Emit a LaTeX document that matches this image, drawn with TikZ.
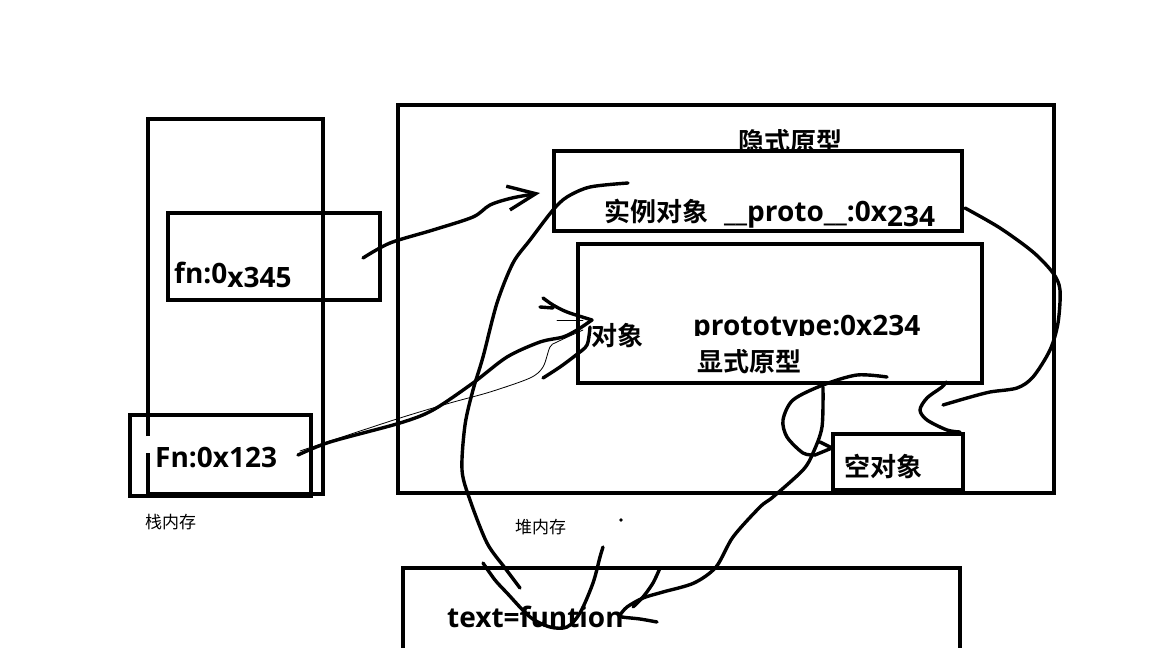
\documentclass[tikz,border=0pt]{standalone}
\usepackage{fontspec}
\setmainfont{Open Sans}
\newfontfamily\cjk{Noto Sans CJK SC}[BoldFont={Noto Sans CJK SC Bold}]
\usetikzlibrary{arrows.meta}

\tikzset{
  box/.style={draw,line width=4.5pt,inner sep=0pt},
  hand/.style={line width=3.4pt,line cap=round,line join=round},
  thinhand/.style={line width=0.8pt,line cap=round},
  lbl/.style={inner sep=0pt,anchor=base west,font=\fontsize{28}{30}\selectfont\bfseries},
  cjklbl/.style={inner sep=0pt,anchor=base west,font=\fontsize{26}{28}\selectfont\cjk\bfseries},
  memlbl/.style={inner sep=0pt,anchor=base west,font=\fontsize{17}{19}\selectfont\cjk},
}

\begin{document}
\begin{tikzpicture}[x=1pt,y=-1pt]
\useasboundingbox (0,0) rectangle (1152,648);

% stack memory
\draw[line width=4.5pt] (148,436) -- (148,119) -- (323,119) -- (323,494) -- (148,494) -- (148,453);
\node[box,minimum width=212pt,minimum height=87pt] (fnbox) at (274,256.5) {};
\node[box,minimum width=181pt,minimum height=81pt] (Fnbox) at (220.5,455.5) {};
\node[lbl] (fnlbl) at (174,283) {fn:0\raisebox{-4pt}{x345}};
\node[lbl] (Fnlbl) at (155,467) {Fn:0x123};
\node[memlbl] (stacklbl) at (145,528) {栈内存};

% heap memory
\node[box,minimum width=656pt,minimum height=388pt] (heap) at (726,299) {};
\node[cjklbl] (implicitlbl) at (738,151) {隐式原型};
\node[box,fill=white,minimum width=408pt,minimum height=80pt] (inst) at (758,191) {};
\node[cjklbl] (instlbl) at (604,221) {实例对象};
\node[lbl] (protolbl) at (724,221) {\_\_proto\_\_:0x\raisebox{-5pt}{234}};
\node[box,minimum width=404pt,minimum height=139pt] (obj) at (780,313.5) {};
\node[cjklbl] (objlbl) at (591,345) {对象};
\begin{scope}
  \clip (600,300) rectangle (970,335);
  \node[lbl] (prototypelbl) at (693,335) {prototype:0x234};
\end{scope}
\node[cjklbl] (explicitlbl) at (697,371) {显式原型};
\node[box,minimum width=130pt,minimum height=56pt] (empty) at (898,462) {};
\node[cjklbl] (emptylbl) at (844,476) {空对象};
\node[memlbl] (heaplbl) at (515,533) {堆内存};
\fill (621,520) circle (1.8pt);

% function object
\draw[line width=4.5pt] (403,660) -- (403,568) -- (960,568) -- (960,660);
\node[lbl] (textlbl) at (447,627) {text=funtion};

% connector ends
\coordinate (fnout) at (363,258);
\coordinate (instin) at (540,193);
\coordinate (Fnout) at (298,455);
\coordinate (objin) at (592,320);
\coordinate (instout) at (628,183);
\coordinate (textin) at (520,588);
\coordinate (objout) at (823,387);
\coordinate (texttip) at (620,615);
\coordinate (loopstart) at (887,377);
\coordinate (emptyin) at (832,448);
\coordinate (instright) at (965,208);
\coordinate (emptytop) at (960,432);

% fn:0x345 -> instance
\draw[hand,-{Straight Barb[length=28pt,width=24pt]}] plot[smooth] coordinates {(fnout) (390,243) (433,230) (473,217) (490,205) (512,198) (instin)};

% Fn:0x123 -> object
\draw[hand] plot[smooth] coordinates {(Fnout) (330,442) (400,423) (433,410) (473,383) (507,357) (540,342) (563,337) (577,330) (objin)};
\draw[hand] plot[smooth] coordinates {(543,298) (553,305) (567,312) (objin)};
\draw[hand] (540,307) -- (553,308);
\draw[hand] plot[smooth] coordinates {(543,378) (560,367) (576,355) (587,345) (590,327)};
\draw[thinhand] plot[smooth] coordinates {(300,451) (333,440) (400,418) (450,403) (490,392) (530,378) (543,367) (550,347) (557,342) (583,330)};
\draw[thinhand] (557,320) -- (583,320);

% instance -> function
\draw[hand] plot[smooth] coordinates {(instout) (590,187) (567,197) (553,210) (530,240) (513,263) (497,303) (483,357) (473,390) (465,425) (462,470) (470,500) (487,543) (505,568) (textin)};
\draw[hand] plot[smooth] coordinates {(483,563) (495,580) (507,593) (530,617) (550,627) (567,627) (580,613) (593,583) (600,557) (603,547)};

% object -> function
\draw[hand] plot[smooth] coordinates {(objout) (822,427) (813,453) (803,470) (773,497) (760,507) (733,537) (716,567) (694,583) (663,592) (643,598) (627,607) (texttip)};
\draw[hand] plot[smooth] coordinates {(texttip) (622,617) (640,619) (657,622)};
\draw[hand] plot[smooth] coordinates {(633,607) (643,597) (653,583) (660,568)};

% object -> empty object
\draw[hand] plot[smooth] coordinates {(loopstart) (857,375) (823,385) (793,400) (783,420) (787,437) (803,453) (815,455)};
\draw[hand] (815,455) -- (emptyin) -- (820,442);

% instance -> empty object
\draw[hand] plot[smooth] coordinates {(instright) (1000,228) (1033,252) (1053,273) (1060,290) (1058,323) (1050,350) (1033,377) (1017,388) (990,392) (967,398) (943,405)};
\draw[hand] plot[smooth] coordinates {(946,382) (942,387) (927,398) (920,410) (927,420) (947,430) (emptytop)};
\end{tikzpicture}
\end{document}
